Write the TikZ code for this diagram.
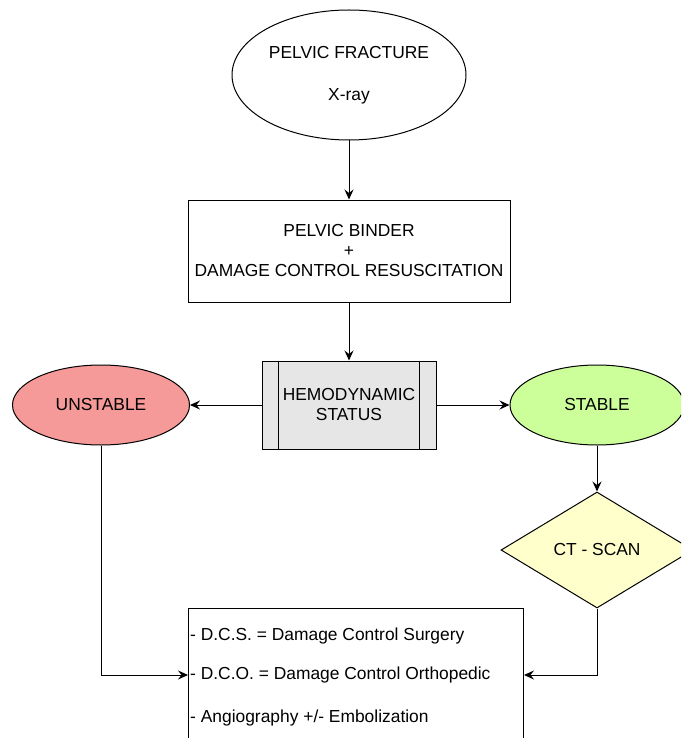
\documentclass[tikz,border=0pt]{standalone}
\usepackage{fontspec}
\setmainfont{Liberation Sans}
\usetikzlibrary{shapes.geometric,arrows.meta}
\definecolor{unstablefill}{HTML}{F59A98}
\definecolor{stablefill}{HTML}{CCFF99}
\definecolor{scanfill}{HTML}{FFFFCC}
\definecolor{statusfill}{HTML}{E6E6E6}
\tikzset{
  base/.style={draw=black, line width=1pt, font=\fontsize{17.4}{20}\selectfont, align=center, inner sep=0pt},
  oval/.style={base, ellipse},
  boxnode/.style={base, rectangle},
  decision/.style={base, diamond},
  link/.style={line width=1pt, -{Stealth[length=10pt,width=9pt,inset=3.5pt]}},
  plain/.style={line width=1pt},
  item/.style={anchor=west, font=\fontsize{17.4}{20}\selectfont, inner sep=0pt},
}
\begin{document}
\begin{tikzpicture}[x=1pt,y=-1pt]
\useasboundingbox (0,0) rectangle (681,738);
\clip (0,0) rectangle (681,738);
\node[oval, minimum width=234pt, minimum height=130pt] (frac) at (349,75) {\raisebox{-2pt}{PELVIC FRACTURE}\\[22pt]\raisebox{-2pt}{X-ray}};
\node[boxnode, minimum width=322pt, minimum height=102pt] (binder) at (349,251) {PELVIC BINDER\\+\\DAMAGE CONTROL RESUSCITATION};
\node[boxnode, fill=statusfill, minimum width=174pt, minimum height=88pt] (status) at (349,405) {HEMODYNAMIC\\STATUS};
\draw[plain] ([xshift=17pt]status.north west) -- ([xshift=17pt]status.south west);
\draw[plain] ([xshift=-17pt]status.north east) -- ([xshift=-17pt]status.south east);
\node[oval, fill=unstablefill, minimum width=177pt, minimum height=80pt] (unstable) at (101,405) {UNSTABLE};
\node[oval, fill=stablefill, minimum width=174pt, minimum height=80pt] (stable) at (597,405) {STABLE};
\node[decision, fill=scanfill, minimum width=192pt, minimum height=116pt] (scan) at (597,550) {CT - SCAN};
\node[boxnode, anchor=north west, minimum width=335pt, minimum height=160pt] (treat) at (188,608) {};
\node[item] (dcs) at ([xshift=2pt,yshift=-28pt]treat.north west) {- D.C.S. = Damage Control Surgery};
\node[item] (dco) at ([xshift=2pt,yshift=-67pt]treat.north west) {- D.C.O. = Damage Control Orthopedic};
\node[item] (angio) at ([xshift=2pt,yshift=-110pt]treat.north west) {- Angiography +/- Embolization};
\coordinate (lj) at (unstable.south |- dco.west);
\coordinate (rj) at (scan.south |- dco.west);
\coordinate (li) at (treat.west |- dco.west);
\coordinate (ri) at (treat.east |- dco.west);
\draw[link] (frac) -- (binder);
\draw[link] (binder) -- (status);
\draw[link] (status) -- (unstable);
\draw[link] (status) -- (stable);
\draw[link] (stable) -- (scan);
\draw[link] (unstable.south) -- (lj) -- (li);
\draw[link] (scan.south) -- (rj) -- (ri);
\end{tikzpicture}
\end{document}
